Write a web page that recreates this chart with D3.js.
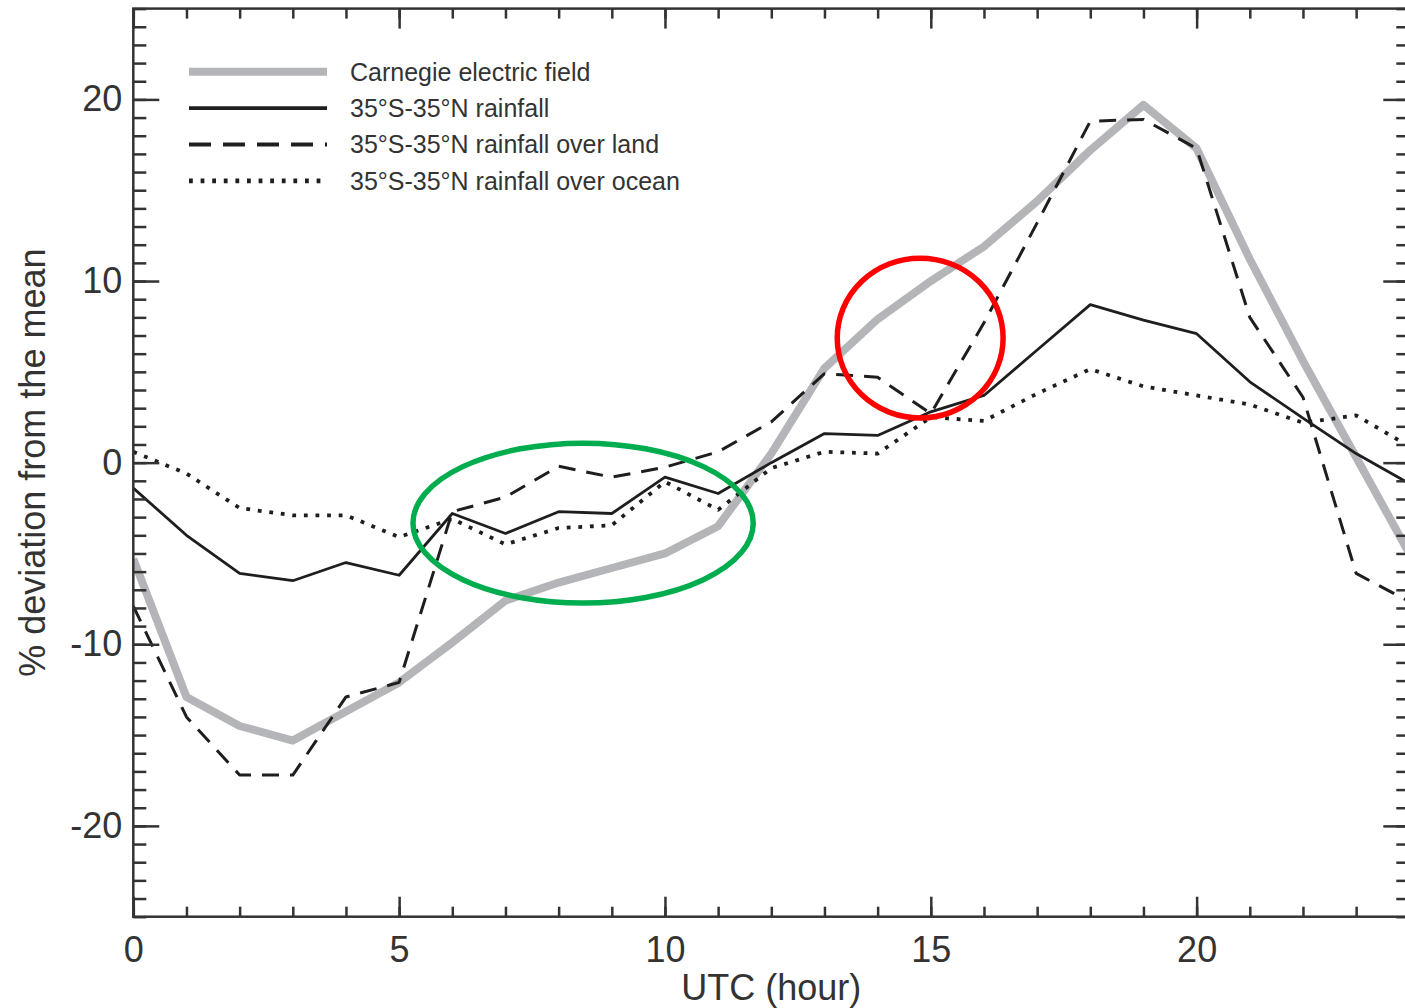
<!DOCTYPE html>
<html>
<head>
<meta charset="utf-8">
<script src="https://cdn.jsdelivr.net/npm/d3@7"></script>
<style>
  body { margin: 0; background: #fff; }
  text { font-family: "Liberation Sans", Arial, Helvetica, sans-serif; fill: #333; }
  .tick-label { font-size: 36px; }
  .legend-label { font-size: 25px; }
</style>
</head>
<body>
<div id="chart"></div>
<script>
// data, hourly UTC
const hours = [0, 1, 2, 3, 4, 5, 6, 7, 8, 9, 10, 11, 12, 13, 14, 15, 16, 17, 18, 19, 20, 21, 22, 23, 24]

const carnegie = [-5.3, -12.9, -14.5, -15.3, -13.7, -12.1, -9.9, -7.6, -6.6, -5.8, -5.0, -3.5, 0.5, 5.2, 7.9, 10.0, 11.9, 14.4, 17.2, 19.7, 17.3, 11.2, 5.6, 0.3, -5.0]
const rainfall = [-1.4, -4.0, -6.1, -6.5, -5.5, -6.2, -2.8, -3.9, -2.7, -2.8, -0.8, -1.7, 0.0, 1.6, 1.5, 2.8, 3.7, 6.2, 8.7, 7.85, 7.1, 4.45, 2.45, 0.5, -1.15]
const rainLand = [-7.9, -14.0, -17.2, -17.2, -12.9, -12.1, -2.7, -1.9, -0.2, -0.8, -0.25, 0.6, 2.25, 4.9, 4.7, 2.7, 7.7, 13.2, 18.8, 18.9, 17.3, 8.0, 3.6, -6.1, -7.65]
const rainOcean = [0.6, -0.6, -2.5, -2.9, -2.9, -4.1, -3.1, -4.5, -3.6, -3.45, -1.05, -2.6, -0.3, 0.6, 0.5, 2.5, 2.3, 3.8, 5.15, 4.2, 3.7, 3.2, 2.2, 2.6, 0.9]

const legendLabels = [
  "Carnegie electric field",
  "35°S-35°N rainfall",
  "35°S-35°N rainfall over land",
  "35°S-35°N rainfall over ocean",
]

const xMajorTicks = [0, 5, 10, 15, 20]
const yMajorTicks = [-20, -10, 0, 10, 20]

// highlight marks drawn over the chart: [hour, value, half-width in hours, half-height in %]
const greenEllipse = [8.46, -3.33, 3.2, 4.4]
const redCircle = [14.8, 6.86, 1.56, 4.4]

// dimensions
const dimensions = {
  width: 1405,
  height: 1008,
  margin: { top: 8.6, right: -4.3, bottom: 91.3, left: 133.3 },
}
dimensions.boundedWidth = dimensions.width - dimensions.margin.left - dimensions.margin.right
dimensions.boundedHeight = dimensions.height - dimensions.margin.top - dimensions.margin.bottom

const svg = d3.select("#chart")
  .append("svg")
    .attr("width", dimensions.width)
    .attr("height", dimensions.height)

const bounds = svg.append("g")
    .attr("transform", `translate(${dimensions.margin.left},${dimensions.margin.top})`)

// scales
const xScale = d3.scaleLinear()
    .domain([0, 24])
    .range([0, dimensions.boundedWidth])

const yScale = d3.scaleLinear()
    .domain([-25, 25])
    .range([dimensions.boundedHeight, 0])

const lineGen = values => d3.line()
    .x((d, i) => xScale(hours[i]))
    .y(d => yScale(d))(values)

// series
const series = [
  { values: carnegie, stroke: "#b4b5b8", width: 8, dash: null },
  { values: rainfall, stroke: "#1e1e1e", width: 2.8, dash: null },
  { values: rainLand, stroke: "#1e1e1e", width: 3, dash: "17,11" },
  { values: rainOcean, stroke: "#1e1e1e", width: 3.8, dash: "3.8,7.8" },
]

bounds.append("clipPath")
    .attr("id", "plot-clip")
  .append("rect")
    .attr("width", dimensions.boundedWidth)
    .attr("height", dimensions.boundedHeight)

bounds.append("g")
    .attr("clip-path", "url(#plot-clip)")
  .selectAll("path")
  .data(series)
  .join("path")
    .attr("d", d => lineGen(d.values))
    .attr("fill", "none")
    .attr("stroke", d => d.stroke)
    .attr("stroke-width", d => d.width)
    .attr("stroke-dasharray", d => d.dash)
    .attr("stroke-linejoin", "round")

// axes, ticks pointing inward
const axisColor = "#333"
const plainFormat = d => `${d}`
const styleAxis = g => {
  g.select(".domain").remove()
  g.selectAll(".tick line").attr("stroke", axisColor).attr("stroke-width", 2.5)
  g.selectAll(".tick text").attr("class", "tick-label").attr("fill", axisColor)
}

bounds.append("g")
    .attr("transform", `translate(0,${dimensions.boundedHeight})`)
    .call(d3.axisBottom(xScale).tickValues(hours).tickSize(-10).tickFormat(""))
    .call(styleAxis)
bounds.append("g")
    .attr("transform", `translate(0,${dimensions.boundedHeight})`)
    .call(d3.axisBottom(xScale).tickValues(xMajorTicks).tickSize(-20).tickPadding(20).tickFormat(plainFormat))
    .call(styleAxis)
bounds.append("g")
    .call(d3.axisTop(xScale).tickValues(hours).tickSize(-10).tickFormat(""))
    .call(styleAxis)
bounds.append("g")
    .call(d3.axisTop(xScale).tickValues(xMajorTicks).tickSize(-20).tickFormat(""))
    .call(styleAxis)

const yMinor = d3.range(-25, 26)
bounds.append("g")
    .call(d3.axisLeft(yScale).tickValues(yMinor).tickSize(-13).tickFormat(""))
    .call(styleAxis)
bounds.append("g")
    .call(d3.axisLeft(yScale).tickValues(yMajorTicks).tickSize(-26).tickPadding(11).tickFormat(plainFormat))
    .call(styleAxis)
bounds.append("g")
    .attr("transform", `translate(${dimensions.boundedWidth},0)`)
    .call(d3.axisRight(yScale).tickValues(yMinor).tickSize(-13).tickFormat(""))
    .call(styleAxis)
bounds.append("g")
    .attr("transform", `translate(${dimensions.boundedWidth},0)`)
    .call(d3.axisRight(yScale).tickValues(yMajorTicks).tickSize(-26).tickFormat(""))
    .call(styleAxis)

bounds.append("rect")
    .attr("width", dimensions.boundedWidth)
    .attr("height", dimensions.boundedHeight)
    .attr("fill", "none")
    .attr("stroke", axisColor)
    .attr("stroke-width", 2.5)

// axis titles
svg.append("text")
    .attr("x", dimensions.margin.left + dimensions.boundedWidth / 2)
    .attr("y", 1000)
    .attr("text-anchor", "middle")
    .style("font-size", "36px")
    .text("UTC (hour)")

svg.append("text")
    .attr("transform", `translate(45,${dimensions.margin.top + yScale(0)}) rotate(-90)`)
    .attr("text-anchor", "middle")
    .style("font-size", "36px")
    .text("% deviation from the mean")

// legend
const legend = svg.append("g")
    .attr("transform", "translate(189,71.7)")

const legendRows = legend.selectAll("g")
  .data(series)
  .join("g")
    .attr("transform", (d, i) => `translate(0,${i * 36.4})`)

legendRows.append("line")
    .attr("x1", 0)
    .attr("x2", 138)
    .attr("stroke", d => d.stroke)
    .attr("stroke-width", d => d.width === 8 ? 8 : d.width + 0.8)
    .attr("stroke-dasharray", d => d.dash === "17,11" ? "22,12" : d.dash)

legendRows.append("text")
    .attr("class", "legend-label")
    .attr("x", 161)
    .attr("y", 8.8)
    .text((d, i) => legendLabels[i])

// highlight ellipses
const drawEllipse = (spec, color) => {
  const [h, v, dh, dv] = spec
  bounds.append("ellipse")
      .attr("cx", xScale(h))
      .attr("cy", yScale(v))
      .attr("rx", xScale(dh) - xScale(0))
      .attr("ry", yScale(0) - yScale(dv))
      .attr("fill", "none")
      .attr("stroke", color)
      .attr("stroke-width", 5.5)
}
drawEllipse(greenEllipse, "#00ad4e")
drawEllipse(redCircle, "#ff0000")
</script>
</body>
</html>
